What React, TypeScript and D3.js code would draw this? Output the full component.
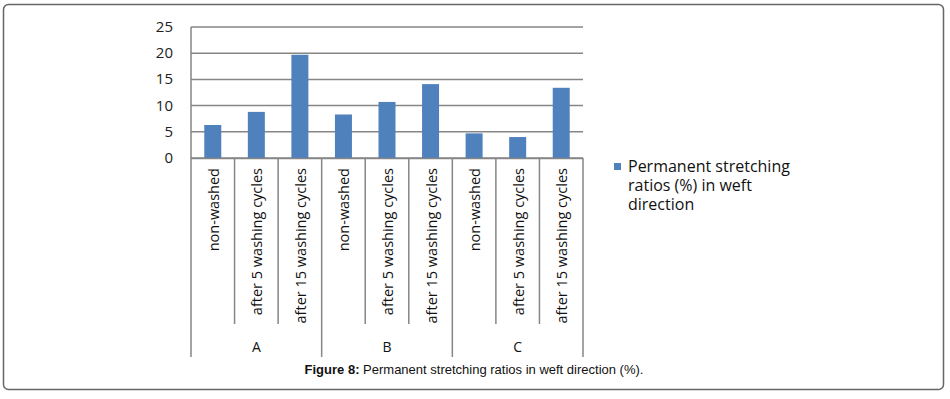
import * as d3 from "d3";
import React, { useEffect, useRef } from "react";

const groups = ["A", "B", "C"];
const conditions = ["non-washed", "after 5 washing cycles", "after 15 washing cycles"];
const valuesA = [6.3, 8.8, 19.7];
const valuesB = [8.3, 10.7, 14.1];
const valuesC = [4.7, 4.0, 13.4];
const yTicks = [0, 5, 10, 15, 20, 25];
const seriesName = ["Permanent stretching", "ratios (%) in weft", "direction"];

const W = 950;
const H = 399;

export default function App() {
    const ref = useRef<SVGSVGElement>(null);

    useEffect(() => {
        const svg = d3.select(ref.current);
        svg.selectAll("*").remove();

        const left = 191, right = 583, top = 27, bottom = 158;
        const allValues = [valuesA, valuesB, valuesC];
        const data: { key: string; group: string; cond: string; value: number }[] = [];
        groups.forEach((g, gi) => conditions.forEach((c, ci) => {
            data.push({ key: g + ci, group: g, cond: c, value: allValues[gi][ci] });
        }));

        const x = d3.scaleBand().domain(data.map(d => d.key)).range([left, right]);
        const y = d3.scaleLinear().domain([0, 25]).range([bottom, top]);
        const gray = "#868686";

        // outer frame
        svg.append("rect")
            .attr("x", 3.5).attr("y", 4.5).attr("width", 940).attr("height", 385)
            .attr("rx", 5).attr("fill", "none").attr("stroke", "#666").attr("stroke-width", 1.5);

        // gridlines
        svg.append("g").selectAll("line").data(yTicks).enter().append("line")
            .attr("x1", left).attr("x2", right)
            .attr("y1", d => y(d)).attr("y2", d => y(d))
            .attr("stroke", gray).attr("stroke-width", 1.5);

        // y tick labels
        svg.append("g").selectAll("text").data(yTicks).enter().append("text")
            .attr("x", 173).attr("y", d => y(d) + 5)
            .attr("text-anchor", "end")
            .style("font", "15px 'Open Sans', sans-serif")
            .attr("fill", "#222")
            .text(d => d);

        // y axis line
        svg.append("line").attr("x1", left).attr("x2", left).attr("y1", top).attr("y2", bottom)
            .attr("stroke", gray).attr("stroke-width", 1.5);

        // bars
        const bw = 17;
        svg.append("g").selectAll("rect").data(data).enter().append("rect")
            .attr("x", d => (x(d.key) || 0) + x.bandwidth() / 2 - bw / 2)
            .attr("y", d => y(d.value))
            .attr("width", bw)
            .attr("height", d => bottom - y(d.value))
            .attr("fill", "#4F81BD");

        // x axis line
        svg.append("line").attr("x1", left).attr("x2", right).attr("y1", bottom + 0.5).attr("y2", bottom + 0.5)
            .attr("stroke", gray).attr("stroke-width", 1.5);

        // separators
        const bounds = d3.range(data.length + 1).map(i => left + i * x.step());
        svg.append("g").selectAll("line").data(bounds).enter().append("line")
            .attr("x1", d => d).attr("x2", d => d)
            .attr("y1", bottom)
            .attr("y2", (d, i) => (i % 3 === 0 ? 357 : 324))
            .attr("stroke", gray).attr("stroke-width", 1.5);

        // category labels
        svg.append("g").selectAll("text").data(data).enter().append("text")
            .attr("transform", d => `translate(${(x(d.key) || 0) + x.bandwidth() / 2 + 6},168) rotate(-90)`)
            .attr("text-anchor", "end")
            .style("font", "14.5px 'Open Sans', sans-serif")
            .attr("fill", "#111")
            .text(d => d.cond);

        // group labels
        svg.append("g").selectAll("text").data(groups).enter().append("text")
            .attr("x", (d, i) => left + (i * 3 + 1.5) * x.step())
            .attr("y", 352)
            .attr("text-anchor", "middle")
            .style("font", "14px 'Open Sans', sans-serif")
            .attr("fill", "#111")
            .text(d => d);

        // legend
        svg.append("rect").attr("x", 614).attr("y", 163).attr("width", 7).attr("height", 7).attr("fill", "#4F81BD");
        svg.append("g").selectAll("text").data(seriesName).enter().append("text")
            .attr("x", 628).attr("y", (d, i) => 172 + i * 19)
            .style("font", "16px 'Open Sans', sans-serif")
            .attr("fill", "#111")
            .text(d => d);

        // caption
        const cap = svg.append("text").attr("x", 474).attr("y", 374).attr("text-anchor", "middle")
            .style("font", "13px 'Liberation Sans', Arial, sans-serif").attr("fill", "#111");
        cap.append("tspan").attr("font-weight", "bold").text("Figure 8:");
        cap.append("tspan").text(" Permanent stretching ratios in weft direction (%).");
    }, []);

    return (
        <div style={{ position: "absolute", left: 0, top: 0, background: "#fff" }}>
            <svg ref={ref} width={W} height={H} style={{ display: "block" }} />
        </div>
    );
}
